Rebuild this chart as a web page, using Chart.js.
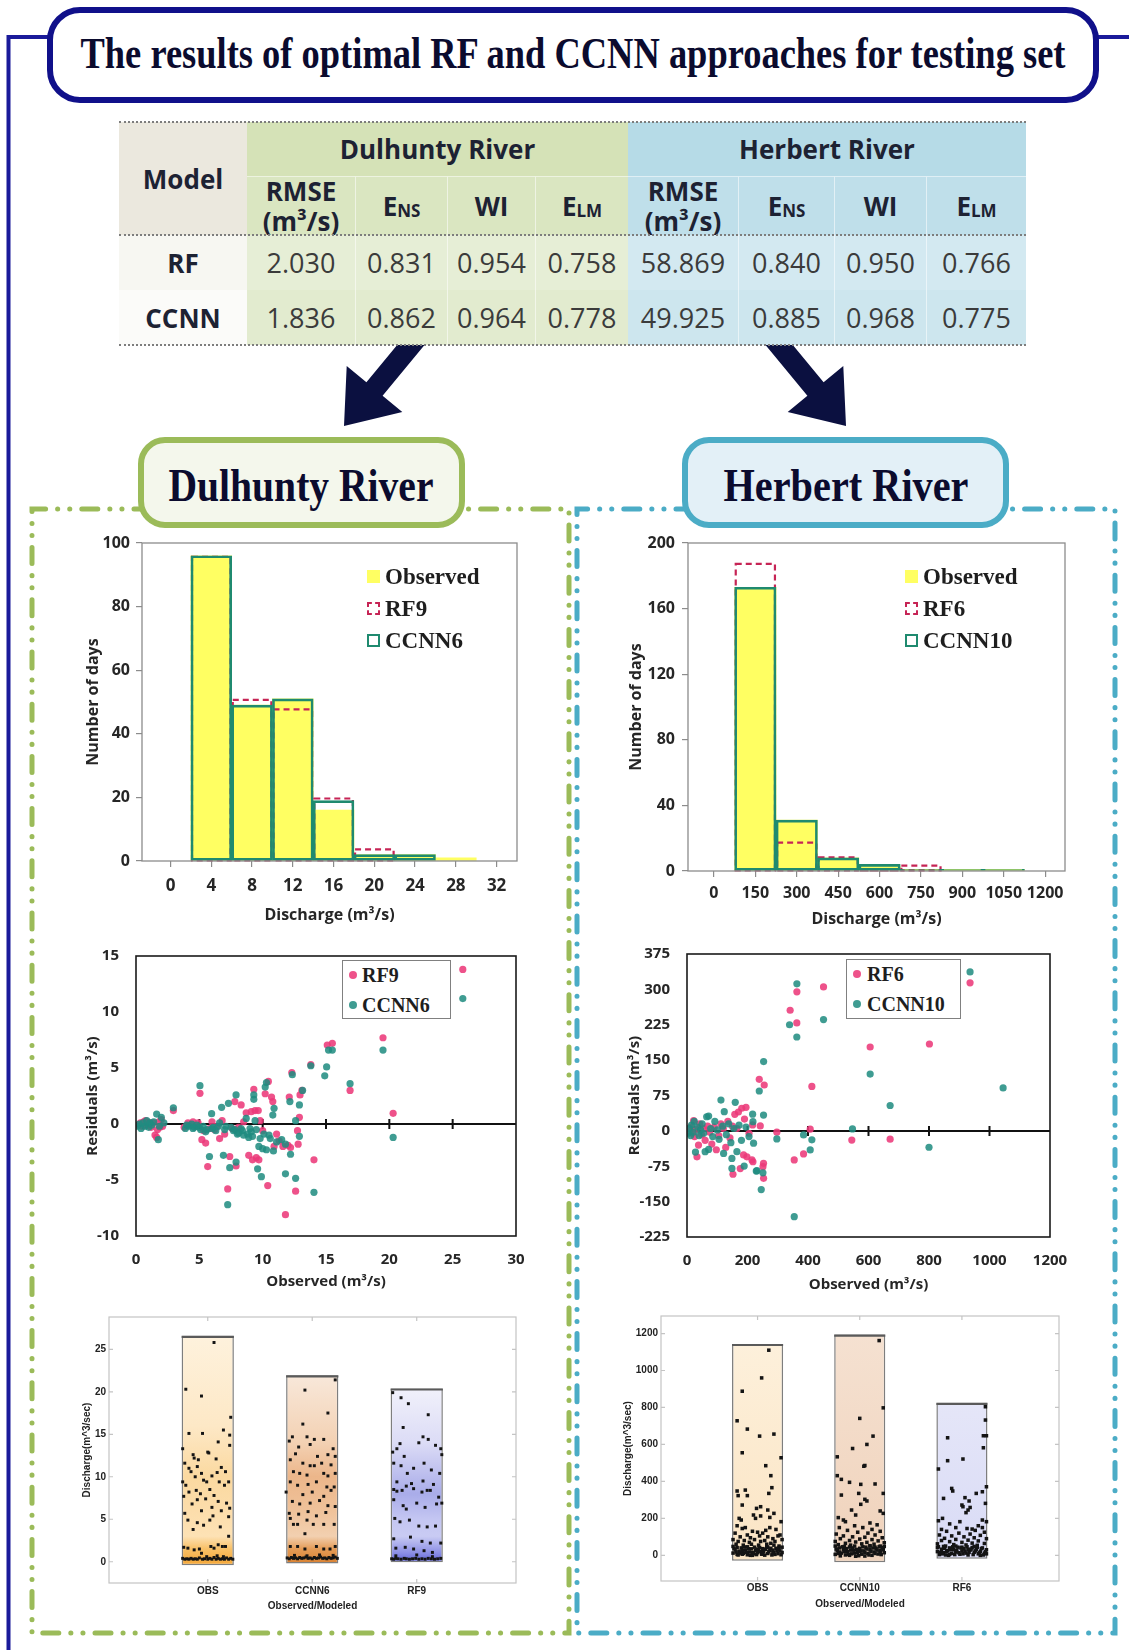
<!DOCTYPE html>
<html lang="en">
<head>
<meta charset="utf-8">
<title>The results of optimal RF and CCNN approaches for testing set</title>
<script src="https://cdn.jsdelivr.net/npm/chart.js@4.4.1/dist/chart.umd.min.js"></script>
<style>
  html, body { margin:0; padding:0; background:#fff; }
  #page { position:relative; width:1129px; height:1650px; overflow:hidden; font-family:'Open Sans','DejaVu Sans',sans-serif; }
  #deco { position:absolute; left:0; top:0; z-index:0; }
  .fit { position:absolute; white-space:nowrap; font-family:'Liberation Serif',serif; font-weight:bold; color:#0b0b2e; line-height:1.15; z-index:3; }
  .cell { position:absolute; box-sizing:border-box; display:flex; align-items:center; justify-content:center; text-align:center; z-index:2; }
  .hd { font-weight:700; color:#1d2233; font-size:26px; line-height:30px; }
  .num { font-weight:400; color:#3b3b3b; font-size:27px; }
  .sb { font-size:17px; position:relative; top:5px; }
  .dots { position:absolute; height:0; border-top:2px dotted #7d7d7d; z-index:3; }
  canvas { position:absolute; z-index:4; }
  .lg { position:absolute; z-index:5; font-family:'Liberation Serif',serif; font-weight:bold; color:#1e1e1e; white-space:nowrap; line-height:1; transform:translateY(-50%); }
  .ic { position:absolute; z-index:5; box-sizing:border-box; width:13px; height:13px; }
  .lgbox { position:absolute; z-index:5; box-sizing:border-box; border:1.5px solid #808080; background:#fff; }
  .dot { position:absolute; z-index:6; width:8px; height:8px; border-radius:50%; transform:translate(-50%,-50%); }
</style>
</head>
<body>
<div id="page">
  <svg id="deco" width="1129" height="1650" viewBox="0 0 1129 1650">
    <!-- outer frame -->
    <path d="M52,37 H8.5 V1650" fill="none" stroke="#1a1a9a" stroke-width="4"/>
    <path d="M1094,37 H1129" fill="none" stroke="#1a1a9a" stroke-width="4"/>
    <!-- title box -->
    <rect x="50" y="10" width="1046" height="90" rx="30" ry="30" fill="#fff" stroke="#10108a" stroke-width="6"/>
    <!-- arrows -->
    <polygon points="344,426 402.3,411.9 382.6,395.7 430.3,337.9 414.1,324.5 366.4,382.3 346.7,366.1" fill="#0b1040"/>
    <polygon points="846,426 787.7,411.9 807.4,395.7 759.7,337.9 775.9,324.5 823.6,382.3 843.3,366.1" fill="#0b1040"/>
    <!-- panel borders -->
    <path d="M150,509 H32 V1633 H569 V509 H455" fill="none" stroke="#9bbb59" stroke-width="5" stroke-linecap="round" stroke-dasharray="16 12 0.1 12 0.1 12"/>
    <path d="M692,509 H577 V1633 H1115 V509 H1000" fill="none" stroke="#4bacc6" stroke-width="5" stroke-linecap="round" stroke-dasharray="16 12 0.1 12 0.1 12"/>
    <!-- river label boxes -->
    <rect x="141" y="440" width="321" height="85" rx="24" ry="24" fill="#f4f7ec" stroke="#9bbb59" stroke-width="6"/>
    <rect x="685" y="440" width="321" height="85" rx="24" ry="24" fill="#e3f0f7" stroke="#4bacc6" stroke-width="6"/>
  </svg>

  <div class="fit" data-w="985" style="left:573px; top:54px; font-size:44px;">The results of optimal RF and CCNN approaches for testing set</div>
  <div class="fit" data-w="265" style="left:301px; top:486px; font-size:46px;">Dulhunty River</div>
  <div class="fit" data-w="245" style="left:846px; top:486px; font-size:46px;">Herbert River</div>

  <div id="tbl"></div>

  <canvas id="histD"></canvas>
  <canvas id="histH"></canvas>
  <canvas id="resD"></canvas>
  <canvas id="resH"></canvas>
  <canvas id="stripD"></canvas>
  <canvas id="stripH"></canvas>
  <div id="legends"></div>
</div>

<script>
// ================= table values =================
const riverNames = ['Dulhunty River', 'Herbert River'];
const modelNames = ['RF', 'CCNN'];
const metricNames = ['RMSE<br>(m³/s)', 'E<span class="sb">NS</span>', 'WI', 'E<span class="sb">LM</span>'];
const dulhuntyRF   = ['2.030', '0.831', '0.954', '0.758'];
const dulhuntyCCNN = ['1.836', '0.862', '0.964', '0.778'];
const herbertRF    = ['58.869', '0.840', '0.950', '0.766'];
const herbertCCNN  = ['49.925', '0.885', '0.968', '0.775'];

// ================= histograms (number of days per discharge bin) =================
const dulBinCenters = [4, 8, 12, 16, 20, 24, 28];
const dulObserved   = [96, 49, 51, 16, 2, 2, 1];
const dulRF9        = [96, 51, 48, 20, 4, 0, 0];
const dulCCNN6      = [96, 49, 51, 19, 2, 2, 0];
const dulHistXTicks = [0, 4, 8, 12, 16, 20, 24, 28, 32];
const dulHistYTicks = [0, 20, 40, 60, 80, 100];

const herBinCenters = [150, 300, 450, 600, 750, 900, 1050];
const herObserved   = [173, 31, 8, 3, 1, 1, 1];
const herRF6        = [188, 18, 9, 1, 4, 0, 0];
const herCCNN10     = [173, 31, 8, 4, 1, 1, 1];
const herHistXTicks = [0, 150, 300, 450, 600, 750, 900, 1050, 1200];
const herHistYTicks = [0, 40, 80, 120, 160, 200];

// ================= residuals [observed, residual] =================
const dulResRF9 = [
  [0.2,-0.1],[0.35,0.1],[0.5,-0.2],[0.6,0.2],[0.75,0.3],[0.9,-0.1],[1.0,0.15],[1.2,-0.3],[1.35,0.1],[1.5,-0.98],[1.63,-1.2],[1.7,-0.5],[1.8,0.2],[1.9,-0.3],[2.0,0.4],[2.1,-0.2],[2.95,1.2],
  [3.8,-0.3],[4.1,0.1],[4.3,-0.1],[4.5,0.2],[4.7,-0.2],[4.9,0.1],[5.05,2.74],[5.2,-1.4],[5.35,-0.6],[5.5,-1.7],[5.66,-3.8],[5.8,-0.4],[6.0,0.2],[6.2,-0.5],[6.4,-0.2],[6.6,-1.3],[6.8,0.3],[7.0,-0.9],
  [7.24,-5.8],[7.4,-2.9],[7.6,-0.4],[7.8,2.0],[7.9,-3.75],[8.1,-0.3],[8.3,1.7],[8.5,0.2],[8.7,1.0],[8.9,-2.8],[9.1,1.1],[9.2,-3.2],[9.3,3.1],[9.4,1.2],[9.5,-3.0],[9.65,1.2],[9.7,-3.2],[9.8,0.3],
  [10.0,-0.6],[10.2,2.7],[10.4,-5.5],[10.45,3.8],[10.7,2.4],[10.8,2.0],[10.9,-2.0],[11.1,-0.9],[11.3,-1.5],[11.6,-2.0],[11.8,-8.1],[12.0,-1.9],[12.1,2.4],[12.2,-2.1],[12.3,4.6],[12.6,-6.0],
  [12.75,-0.6],[12.8,-1.8],[12.9,0.6],[12.95,2.6],[13.1,3.0],[13.8,5.3],[14.05,-3.2],[15.1,7.05],[15.5,7.2],[16.9,3.0],[19.5,7.7],[20.3,0.95],[25.8,13.8]
];
const dulResCCNN6 = [
  [0.1,-0.2],[0.25,0.0],[0.4,-0.4],[0.55,0.1],[0.7,-0.2],[0.85,0.3],[1.0,-0.3],[1.1,0.1],[1.25,-0.1],[1.4,0.2],[1.63,0.89],[1.76,-1.4],[1.85,-0.2],[2.0,0.6],[2.2,0.1],[2.95,1.45],
  [3.9,-0.4],[4.0,-0.1],[4.2,-0.2],[4.4,0.0],[4.5,-0.4],[4.6,-0.3],[4.8,-0.1],[5.0,-0.3],[5.05,3.42],[5.1,-0.5],[5.3,-0.2],[5.5,-0.7],[5.6,-0.5],[5.8,-2.9],[5.97,0.92],[6.0,-0.4],[6.1,-0.3],
  [6.3,-0.6],[6.5,-0.2],[6.6,0.1],[6.76,1.49],[6.9,-2.8],[7.0,-0.5],[7.1,-0.2],[7.24,-7.2],[7.3,1.85],[7.4,-3.9],[7.5,-0.3],[7.7,-0.6],[7.8,-0.5],[7.9,2.6],[7.9,-3.4],[8.0,-0.9],[8.1,-0.8],
  [8.3,-0.4],[8.4,-0.6],[8.5,-1.0],[8.7,0.5],[8.8,-0.9],[8.9,-1.2],[9.0,-0.4],[9.1,-0.7],[9.2,-1.1],[9.3,2.6],[9.3,2.2],[9.4,0.3],[9.5,-0.5],[9.6,-4.0],[9.7,-2.0],[9.8,-1.3],[9.9,-4.7],
  [10.0,-2.2],[10.1,-0.9],[10.2,3.3],[10.3,-2.3],[10.3,3.7],[10.5,-1.0],[10.6,-1.3],[10.8,0.8],[10.85,-2.4],[10.9,1.4],[11.1,-1.6],[11.5,-1.4],[11.8,-1.8],[11.8,-4.45],[12.15,2.0],[12.2,-2.7],
  [12.34,4.4],[12.6,0.3],[12.6,-4.85],[12.9,1.7],[12.9,-1.1],[13.15,3.0],[13.8,5.2],[14.05,-6.1],[14.9,4.3],[15.05,5.1],[15.2,6.6],[15.5,6.6],[16.9,3.6],[19.5,6.6],[20.3,-1.2],[25.8,11.2]
];
const herResRF6 = [
  [5,-2],[12,8],[18,-5],[22,22],[25,-12],[30,3],[33,-55],[38,-30],[42,15],[48,-8],[55,5],[60,-20],[68,10],[75,-3],[82,-28],[90,8],[97,-40],[105,-10],[112,15],[120,5],
  [128,-35],[135,20],[142,-15],[150,10],[152,-92],[158,35],[165,5],[170,40],[176,-80],[181,48],[187,-51],[190,25],[195,50],[198,-55],[205,-5],[214.7,-61.6],[216.9,12.7],
  [218,-65.5],[238.8,109.3],[242.2,10.6],[251,-76],[253.2,-100.6],[253,-68.7],[255.3,97.3],[297,-2.8],[341,255.7],[354.5,-61.6],[363,228.8],[363.3,294.7],[385.3,-48.9],
  [407.3,3.5],[412.8,94.2],[451.3,305.3],[544.8,-19.4],[605.5,177.8],[671.5,-17.7],[801.4,184.2],[935.7,313.8]
];
const herResCCNN10 = [
  [3,-5],[8,5],[12,-10],[15,12],[20,-3],[24,20],[28,-45],[35,8],[40,-10],[45,2],[50,15],[55,-5],[60,-44],[65,30],[71.5,31.4],[71.5,-39.4],[78,5],[85,-12],[92,20],[100,2],
  [106,-18],[112.2,65.3],[118,10],[123.2,40.7],[121,-47.8],[130,-8],[138,15],[145,-25],[148.5,-58.4],[148.5,-79.6],[155,5],[159.5,60.5],[165,-44.2],[172,12],[180,-20],
  [189,-74.7],[195,8],[205,-12],[216.9,35.4],[218,19.4],[220,-26],[229,-85.3],[231.2,-84.3],[238.9,84.5],[245.4,-124.4],[251,-89],[253,33.6],[253.3,146.9],[297,-17],
  [339,225],[354.5,-182],[363.3,311.7],[363,199],[385.3,-8.5],[407.3,-40.4],[412.8,-19],[451.3,235.9],[547,4.2],[605.5,120.4],[671.5,53.8],[800,-34.7],[935.7,337],[1045,91]
];

// ================= jittered discharge columns [offset within column, discharge] =================
const dulStripLabels = ['OBS', 'CCNN6', 'RF9'];
const dulStripLow  = [-0.4, -0.2, -0.05];
const dulStripHigh = [26.6, 21.95, 20.4];
const dulStripOBS = [
  [0.06,25.8],[-0.21,20.3],[-0.06,19.5],[0.22,17.0],[-0.18,15.1],[-0.05,15.1],[0.15,15.5],[0.1,14.1],[0.21,14.9],[0.21,13.7],[-0.24,13.3],[0.0,12.9],[0.01,12.8],[0.08,12.1],
  [-0.09,12.0],[-0.14,12.6],[-0.13,12.2],[-0.22,11.6],[-0.18,11.0],[-0.16,10.6],[-0.12,10.0],[-0.1,11.2],[-0.06,10.4],[0.04,10.1],[0.09,10.5],[0.13,11.1],[0.17,10.6],[0.2,9.4],
  [-0.24,9.4],[-0.21,9.0],[-0.01,9.4],[-0.04,9.6],[0.11,9.4],[0.16,9.0],[-0.18,8.2],[-0.11,8.4],[-0.07,8.0],[0.02,8.5],[0.06,7.8],[-0.23,7.7],[-0.1,7.3],[-0.02,7.4],[0.1,7.1],
  [0.18,6.9],[0.21,6.3],[-0.15,6.8],[-0.06,6.0],[0.04,6.4],[0.13,6.0],[-0.22,5.7],[0.05,5.4],[-0.19,4.9],[-0.1,4.6],[-0.04,4.3],[0.02,4.9],[-0.14,3.8],[0.12,4.1],[0.2,3.0],[0.2,5.3],
  [-0.23,1.7],[-0.19,1.6],[-0.13,1.4],[-0.08,1.5],[0.03,1.8],[0.1,2.0],[0.14,1.8],[0.06,1.6],[0.17,1.8],[-0.06,1.0],
  [-0.24,0.4],[-0.22,0.3],[-0.2,0.35],[-0.18,0.3],[-0.16,0.4],[-0.14,0.3],[-0.12,0.35],[-0.1,0.3],[-0.08,0.45],[-0.05,0.3],[-0.03,0.35],[0.0,0.3],[0.02,0.4],[0.04,0.3],
  [0.06,0.5],[0.08,0.3],[0.1,0.4],[0.12,0.3],[0.14,0.35],[0.16,0.3],[0.18,0.45],[0.2,0.3],[0.22,0.4],[0.24,0.3],[-0.01,0.6],[0.09,0.7],[0.15,0.6]
];
const dulStripCCNN6 = [
  [0.22,21.4],[-0.07,20.2],[0.15,17.5],[-0.09,16.2],[-0.19,14.7],[-0.22,14.2],[-0.05,14.7],[0.02,14.4],[0.11,14.4],[0.2,13.3],[-0.13,13.5],[-0.02,13.8],[-0.16,12.7],[0.05,12.4],
  [0.15,12.6],[0.22,12.4],[-0.21,12.0],[-0.09,11.6],[-0.02,11.3],[0.02,11.3],[0.09,11.6],[0.18,11.4],[-0.18,10.6],[-0.12,10.4],[-0.05,10.2],[0.11,10.4],[0.15,10.1],[0.22,10.4],
  [-0.21,9.4],[-0.14,9.0],[-0.04,9.1],[0.04,9.4],[0.14,8.8],[0.21,8.8],[-0.25,8.2],[-0.09,7.9],[0.0,8.2],[0.11,7.7],[0.18,8.4],[-0.19,7.1],[-0.12,6.8],[-0.02,6.9],[0.07,7.2],
  [0.15,6.6],[0.22,6.5],[-0.22,5.7],[-0.13,5.6],[-0.04,5.9],[0.04,5.4],[0.13,5.8],[-0.21,5.1],[-0.18,4.4],[-0.14,4.4],[-0.05,4.9],[0.01,4.4],[0.11,4.4],[0.21,4.4],[-0.07,3.3],
  [-0.21,1.8],[-0.14,1.8],[-0.07,1.5],[0.04,1.8],[0.11,1.5],[0.17,1.5],[0.22,1.8],
  [-0.24,0.45],[-0.22,0.35],[-0.2,0.5],[-0.18,0.4],[-0.16,0.45],[-0.14,0.35],[-0.12,0.5],[-0.1,0.4],[-0.08,0.45],[-0.06,0.55],[-0.04,0.4],[-0.02,0.45],[0,0.35],[0.02,0.5],
  [0.04,0.4],[0.06,0.45],[0.08,0.55],[0.1,0.4],[0.12,0.45],[0.14,0.35],[0.16,0.5],[0.18,0.4],[0.2,0.45],[0.22,0.55],[0.24,0.4],[-0.05,0.7],[0.07,0.8],[0.2,0.75],[-0.17,0.75]
];
const dulStripRF9 = [
  [-0.23,19.9],[-0.15,19.3],[-0.08,18.6],[0.11,17.3],[-0.13,15.8],[-0.16,13.9],[-0.19,13.3],[0.06,14.7],[0.02,14.0],[0.11,14.4],[0.18,13.7],[-0.23,12.9],[-0.12,12.4],[0.23,13.3],
  [0.24,12.6],[-0.22,11.6],[-0.15,11.3],[-0.09,10.4],[-0.03,11.0],[0.07,11.6],[0.14,10.8],[0.22,10.4],[-0.19,9.4],[-0.1,8.9],[-0.05,9.2],[0.06,9.5],[0.16,9.1],[-0.22,8.5],
  [-0.19,8.3],[-0.14,8.4],[-0.03,8.6],[0.05,8.2],[0.1,8.4],[0.13,8.4],[0.21,7.6],[-0.22,7.3],[-0.13,6.6],[-0.1,6.2],[0.0,6.9],[0.08,6.4],[0.19,6.8],[0.24,6.9],[-0.21,5.1],
  [-0.16,4.7],[-0.07,4.9],[0.02,4.2],[0.1,4.1],[0.18,4.2],[-0.06,2.9],[-0.22,2.7],[0.05,2.4],[0.13,2.2],[0.23,2.2],[-0.2,1.6],[-0.11,1.7],[-0.03,1.5],[0.07,1.3],[0.15,1.1],
  [-0.24,0.35],[-0.22,0.3],[-0.2,0.4],[-0.18,0.35],[-0.15,0.3],[-0.12,0.4],[-0.1,0.35],[-0.07,0.3],[-0.04,0.35],[-0.01,0.4],[0.02,0.3],[0.05,0.35],[0.08,0.3],[0.11,0.4],
  [0.14,0.35],[0.17,0.3],[0.2,0.35],[0.23,0.4],[-0.2,0.7],[0.0,0.8],[0.15,0.6]
];

const herStripLabels = ['OBS', 'CCNN10', 'RF6'];
const herStripLow  = [-29, -38, -18];
const herStripHigh = [1144, 1195, 825];
const herStripOBS = [
  [0.11,1110],[0.04,960],[-0.15,888],[-0.2,728],[-0.1,683],[0.02,645],[0.16,656],[-0.15,555],[0.23,528],[0.08,485],[0.13,431],[0.14,366],[0.11,335],[-0.2,348],[-0.19,323],
  [-0.12,353],[-0.1,323],[-0.15,272],[0.03,263],[-0.01,254],[0.1,245],[0.16,227],[-0.04,218],[0.03,213],[0.12,205],[-0.18,200],[-0.16,191],[0.23,182],[-0.02,200],
  [-0.2,160],[-0.15,145],[-0.12,150],[-0.05,130],[0.0,125],[0.05,120],[0.08,135],[0.12,150],[0.18,140],[0.22,110],[-0.22,120],[-0.17,100],[-0.1,110],[-0.07,95],[0.02,105],
  [0.1,100],[0.15,90],[0.2,105],[-0.24,85],[-0.19,75],[-0.13,80],[-0.08,70],[-0.03,85],[0.03,75],[0.07,80],[0.13,65],[0.17,75],[0.24,85],[-0.21,60],[-0.14,55],[-0.06,60],
  [0.01,55],[0.09,60],[0.16,55],[0.21,50],
  [-0.24,12],[-0.22,30],[-0.2,5],[-0.18,22],[-0.16,40],[-0.14,10],[-0.12,28],[-0.1,3],[-0.08,18],[-0.06,35],[-0.04,8],[-0.02,25],[0,14],[0.02,42],[0.04,6],[0.06,20],[0.08,33],
  [0.1,10],[0.12,27],[0.14,2],[0.16,17],[0.18,38],[0.2,9],[0.22,24],[0.24,15],[-0.23,38],[-0.21,18],[-0.19,2],[-0.17,12],[-0.15,26],[-0.13,45],[-0.11,16],[-0.09,36],[-0.07,0],
  [-0.05,15],[-0.03,44],[-0.01,4],[0.01,30],[0.03,20],[0.05,36],[0.07,1],[0.09,46],[0.11,19],[0.13,38],[0.15,28],[0.17,5],[0.19,25],[0.21,40],[0.23,3],[-0.24,48],[-0.2,42],
  [-0.15,6],[-0.1,46],[-0.05,0],[0.0,34],[0.05,10],[0.1,44],[0.15,12],[0.2,32],[0.24,44]
];
const herStripCCNN10 = [
  [0.19,1162],[0.23,798],[0.0,741],[0.13,645],[0.07,600],[-0.07,578],[-0.22,533],[0.05,486],[0.04,482],[0.15,386],[-0.22,431],[-0.18,411],[-0.1,395],[0.01,384],[-0.01,335],
  [0.23,335],[-0.18,326],[0.05,303],[0.07,294],[0.01,276],[-0.08,245],[0.2,240],[0.23,227],[-0.04,218],[-0.21,204],[-0.16,191],[-0.14,182],[0.1,175],[0.17,165],[-0.05,160],
  [0.03,150],[-0.2,150],[0.12,140],[0.2,130],[-0.12,135],[-0.02,125],[0.08,120],[0.15,110],[-0.23,115],[-0.16,105],[-0.07,100],[0.05,98],[0.22,95],[-0.19,90],[0.0,88],
  [0.12,85],[-0.1,80],[0.18,78],[-0.24,75],[-0.04,72],[0.07,70],[0.24,68],[-0.14,65],[0.02,62],[0.14,60],[-0.21,58],[-0.09,55],[0.1,52],[0.2,50],
  [-0.24,5],[-0.22,25],[-0.2,40],[-0.18,12],[-0.16,30],[-0.14,2],[-0.12,20],[-0.1,45],[-0.08,8],[-0.06,28],[-0.04,-5],[-0.02,16],[0,38],[0.02,6],[0.04,24],[0.06,44],[0.08,10],
  [0.1,30],[0.12,0],[0.14,18],[0.16,36],[0.18,7],[0.2,26],[0.22,42],[0.24,14],[-0.23,34],[-0.21,10],[-0.19,-3],[-0.17,46],[-0.15,20],[-0.13,36],[-0.11,6],[-0.09,28],[-0.07,40],
  [-0.05,12],[-0.03,32],[-0.01,-2],[0.01,24],[0.03,46],[0.05,14],[0.07,34],[0.09,2],[0.11,22],[0.13,40],[0.15,10],[0.17,28],[0.19,46],[0.21,4],[0.23,30],[-0.24,50],[-0.2,18],
  [-0.15,48],[-0.1,0],[-0.05,50],[0,22],[0.05,-4],[0.1,50],[0.15,44],[0.2,16],[0.24,48]
];
const herStripRF6 = [
  [0.23,804],[0.23,732],[0.21,647],[0.24,647],[-0.14,636],[0.21,582],[0.01,521],[-0.14,512],[-0.23,467],[0.24,371],[-0.1,362],[-0.09,348],[0.14,335],[0.2,344],[-0.18,308],
  [0.03,312],[0.07,294],[0.23,281],[0.0,272],[0.01,263],[0.08,259],[0.06,245],[0.04,231],[-0.23,187],[-0.19,200],[-0.02,182],[0.2,191],[0.24,182],[-0.12,170],[0.16,160],
  [-0.06,150],[0.05,145],[0.1,142],[0.2,150],[-0.2,140],[0.13,135],[-0.15,130],[0.22,125],[-0.03,120],[0.08,115],[-0.22,110],[0.18,108],[-0.1,105],[0.02,100],[0.12,95],
  [-0.17,92],[0.24,90],[-0.06,86],[0.06,82],[-0.2,80],[0.16,78],[-0.12,74],[0.0,70],[0.1,66],[0.22,64],[-0.24,62],[-0.08,58],[0.04,56],[0.15,54],[-0.16,50],
  [-0.24,20],[-0.22,4],[-0.2,33],[-0.18,14],[-0.16,2],[-0.14,26],[-0.12,40],[-0.1,10],[-0.08,30],[-0.06,18],[-0.04,44],[-0.02,6],[0,24],[0.02,36],[0.04,12],[0.06,2],[0.08,28],
  [0.1,42],[0.12,16],[0.14,32],[0.16,8],[0.18,22],[0.2,40],[0.22,12],[0.24,30],[-0.23,46],[-0.21,16],[-0.19,8],[-0.17,38],[-0.15,20],[-0.13,0],[-0.11,30],[-0.09,46],[-0.07,4],
  [-0.05,26],[-0.03,14],[-0.01,40],[0.01,8],[0.03,22],[0.05,46],[0.07,16],[0.09,34],[0.11,4],[0.13,24],[0.15,44],[0.17,14],[0.19,36],[0.21,2],[0.23,20],[-0.24,42],[-0.18,48],
  [-0.12,6],[-0.06,50],[0.0,44],[0.06,32],[0.12,48],[0.18,0],[0.24,8]
];

// ================= styling =================
const GREEN_LINE = '#1f8a6f';
const RED_DASH = '#c62455';
const YELLOW = '#ffff62';
const PINK = 'rgba(236,58,122,0.88)';
const TEAL = 'rgba(31,140,128,0.86)';
const TXT = '#262626';

// colour ramps for the discharge columns, as [discharge, colour]
const dulColumnRamps = [
  [[29,'#fef4e2'],[16,'#fde8c6'],[10,'#fbd9a0'],[6,'#fcddab'],[3,'#fde2b5'],[1.5,'#f8c066'],[-0.5,'#f4a535']],
  [[22,'#f8e8da'],[14,'#f3d1b3'],[10,'#ecb68a'],[6,'#efc29a'],[3,'#f2d0b0'],[1.5,'#e49b56'],[-0.5,'#d77d2c']],
  [[21,'#f3f3fb'],[14,'#dcdcf6'],[8,'#a9ace9'],[5,'#c4c6f2'],[3,'#c9cbf3'],[1,'#8a8de4'],[-0.5,'#4d52d6']]
];
const herColumnRamps = [
  [[1150,'#fdf0db'],[0,'#fbe5c5']],
  [[1200,'#f5e1d1'],[0,'#f0d3bc']],
  [[830,'#e5e6f8'],[0,'#d9dbf6']]
];

Chart.defaults.font.family = "'Open Sans','DejaVu Sans',sans-serif";
Chart.defaults.color = TXT;

// ================= helpers =================
function fitText() {
  document.querySelectorAll('.fit').forEach(el => {
    const w = el.getBoundingClientRect().width;
    const s = parseFloat(el.dataset.w) / w;
    el.style.transform = `translate(-50%,-50%) scaleX(${s})`;
  });
}

function buildTable() {
  const colX = [119, 247, 355, 447, 535, 628, 738, 834, 926, 1026];
  const rowY = [122, 176, 235, 290, 345];
  const host = document.getElementById('tbl');
  function cell(c0, c1, r0, r1, bg, html, cls, extra) {
    const d = document.createElement('div');
    d.className = 'cell ' + cls;
    d.style.left = colX[c0] + 'px';
    d.style.top = rowY[r0] + 'px';
    d.style.width = (colX[c1] - colX[c0]) + 'px';
    d.style.height = (rowY[r1] - rowY[r0]) + 'px';
    d.style.background = bg;
    if (extra) Object.assign(d.style, extra);
    d.innerHTML = html;
    host.appendChild(d);
  }
  const sep = { borderLeft: '1px solid rgba(255,255,255,0.55)' };
  cell(0, 1, 0, 2, '#ebe8de', 'Model', 'hd');
  cell(1, 5, 0, 1, '#d5e2b7', riverNames[0], 'hd');
  cell(5, 9, 0, 1, '#b6dbe7', riverNames[1], 'hd');
  metricNames.forEach((m, k) => {
    cell(1 + k, 2 + k, 1, 2, '#dae6c1', m, 'hd', Object.assign({ borderTop: '1px solid rgba(255,255,255,0.5)' }, k ? sep : {}));
    cell(5 + k, 6 + k, 1, 2, '#bfdfea', m, 'hd', Object.assign({ borderTop: '1px solid rgba(255,255,255,0.5)' }, k ? sep : {}));
  });
  const rows = [[dulhuntyRF, herbertRF], [dulhuntyCCNN, herbertCCNN]];
  const dulBg = ['#e6eed6', '#e2ebcf'];
  const herBg = ['#d3e9f1', '#cde6ee'];
  rows.forEach((pair, r) => {
    cell(0, 1, 2 + r, 3 + r, r ? '#fbfbf9' : '#f7f7f2', modelNames[r], 'hd');
    pair[0].forEach((v, k) => cell(1 + k, 2 + k, 2 + r, 3 + r, dulBg[r], v, 'num', k ? sep : null));
    pair[1].forEach((v, k) => cell(5 + k, 6 + k, 2 + r, 3 + r, herBg[r], v, 'num', k ? sep : null));
  });
  [122, 235, 345].forEach(y => {
    const d = document.createElement('div');
    d.className = 'dots';
    d.style.left = '119px'; d.style.width = '907px'; d.style.top = (y - 1) + 'px';
    host.appendChild(d);
  });
}

function place(id, box) {
  const c = document.getElementById(id);
  c.width = box.w; c.height = box.h;
  c.style.left = box.x + 'px'; c.style.top = box.y + 'px';
  c.style.width = box.w + 'px'; c.style.height = box.h + 'px';
  return c;
}
function layoutFor(box, area) {
  return {
    padding: { left: 0, top: area.t - box.y, right: box.x + box.w - area.r, bottom: 0 },
    yW: area.l - box.x,
    xH: box.y + box.h - area.b
  };
}
// pin an axis to a fixed thickness and drop the label overhang padding
function pinned(size, horizontal) {
  return s => {
    if (horizontal) s.height = size; else s.width = size;
    s.paddingTop = 0; s.paddingBottom = 0; s.paddingLeft = 0; s.paddingRight = 0;
  };
}
const zipXY = (xs, ys) => xs.map((x, i) => ({ x, y: ys[i] }));
const pairsXY = arr => arr.map(([x, y]) => ({ x, y }));
const columnPoints = (col, arr) => arr.map(([o, v]) => ({ x: col + o, y: v }));
const fixedTicks = list => s => { s.ticks = list.map(v => ({ value: v })); };

const common = { animation: false, responsive: false, maintainAspectRatio: false, devicePixelRatio: 1, events: [] };

// ================= plugins =================
const framePlugin = {
  id: 'frame',
  afterDatasetsDraw(chart, args, opts) {
    if (!opts || !opts.color) return;
    const { ctx, chartArea: a } = chart;
    ctx.save();
    ctx.strokeStyle = opts.color;
    ctx.lineWidth = opts.width || 1;
    ctx.strokeRect(a.left, a.top, a.right - a.left, a.bottom - a.top);
    if (opts.innerTicks) {
      const len = opts.innerTicks, xs = chart.scales.x, ys = chart.scales.y;
      ctx.beginPath();
      ys.ticks.forEach(t => {
        const py = ys.getPixelForValue(t.value);
        ctx.moveTo(a.left, py); ctx.lineTo(a.left + len, py);
        ctx.moveTo(a.right, py); ctx.lineTo(a.right - len, py);
      });
      xs.ticks.forEach(t => {
        const px = xs.getPixelForValue(t.value);
        ctx.moveTo(px, a.top); ctx.lineTo(px, a.top + len);
        ctx.moveTo(px, a.bottom); ctx.lineTo(px, a.bottom - len);
      });
      ctx.stroke();
    }
    ctx.restore();
  }
};
const zeroAxisPlugin = {
  id: 'zeroAxis',
  beforeDatasetsDraw(chart, args, opts) {
    if (!opts || !opts.ticks) return;
    const { ctx, chartArea: a, scales: { x, y } } = chart;
    const py = y.getPixelForValue(0);
    ctx.save();
    ctx.strokeStyle = opts.color || '#111';
    ctx.lineWidth = opts.width || 2;
    ctx.beginPath();
    ctx.moveTo(a.left, py); ctx.lineTo(a.right, py);
    opts.ticks.forEach(v => {
      const px = x.getPixelForValue(v);
      ctx.moveTo(px, py - opts.half); ctx.lineTo(px, py + opts.half);
    });
    ctx.stroke();
    ctx.restore();
  }
};
// dashed outlines for histogram bars, and a darker cap line for range columns
const barExtrasPlugin = {
  id: 'barExtras',
  afterDatasetDraw(chart, args) {
    const ds = chart.data.datasets[args.index];
    if (!ds || (!ds.dashOutline && !ds.capLine)) return;
    const ctx = chart.ctx;
    ctx.save();
    args.meta.data.forEach(bar => {
      const { x, y, base, width } = bar.getProps(['x', 'y', 'base', 'width'], true);
      const top = Math.min(y, base), h = Math.abs(base - y);
      if (h < 0.5) return;
      if (ds.dashOutline) {
        const o = ds.dashOutline, i = o.width / 2;
        ctx.strokeStyle = o.color; ctx.lineWidth = o.width; ctx.setLineDash(o.dash);
        ctx.strokeRect(x - width / 2 + i, top + i, width - 2 * i, h - i);
      }
      if (ds.capLine) {
        ctx.strokeStyle = ds.capLine.color; ctx.lineWidth = ds.capLine.width; ctx.setLineDash([]);
        ctx.beginPath(); ctx.moveTo(x - width / 2, top + ds.capLine.width / 2); ctx.lineTo(x + width / 2, top + ds.capLine.width / 2); ctx.stroke();
      }
    });
    ctx.restore();
  }
};
Chart.register(framePlugin, zeroAxisPlugin, barExtrasPlugin);

// ================= chart builders =================
function histogram(id, box, area, cfg) {
  const L = layoutFor(box, area);
  const bar = (data, extra) => Object.assign({ data, grouped: false, barPercentage: 1, categoryPercentage: 1, borderSkipped: false }, extra);
  const tickFont = size => ({ size, weight: 'bold' });
  return new Chart(place(id, box), {
    type: 'bar',
    data: { datasets: [
      bar(zipXY(cfg.centers, cfg.ccnn), { label: cfg.names[2], backgroundColor: 'rgba(0,0,0,0)', borderColor: GREEN_LINE, borderWidth: 2 }),
      bar(zipXY(cfg.centers, cfg.rf), { label: cfg.names[1], backgroundColor: 'rgba(0,0,0,0)', borderWidth: 0, dashOutline: { color: RED_DASH, width: 2.2, dash: [6, 4] } }),
      bar(zipXY(cfg.centers, cfg.obs), { label: cfg.names[0], backgroundColor: YELLOW, borderWidth: 0 })
    ] },
    options: Object.assign({}, common, {
      layout: { padding: L.padding, autoPadding: false },
      scales: {
        x: {
          type: 'linear', min: cfg.xMin, max: cfg.xMax, offset: false,
          afterBuildTicks: fixedTicks(cfg.xTicks), afterFit: pinned(L.xH, true),
          grid: { display: true, offset: false, drawOnChartArea: false, drawTicks: true, tickLength: 6, color: '#8c8c8c', lineWidth: 1.2 },
          border: { display: false },
          ticks: { autoSkip: false, maxRotation: 0, padding: cfg.xPad, font: tickFont(cfg.xFont), color: TXT, callback: v => String(v) },
          title: { display: true, text: 'Discharge (m³/s)', padding: 0, font: { size: 16, weight: 'bold' }, color: TXT }
        },
        y: {
          type: 'linear', min: 0, max: cfg.yMax,
          afterBuildTicks: fixedTicks(cfg.yTicks), afterFit: pinned(L.yW, false),
          grid: { display: true, drawOnChartArea: false, drawTicks: true, tickLength: 6, color: '#8c8c8c', lineWidth: 1.2 },
          border: { display: false },
          ticks: { padding: cfg.yPad, font: tickFont(16), color: TXT, callback: v => String(v) },
          title: { display: true, text: 'Number of days', padding: 0, font: { size: 16, weight: 'bold' }, color: TXT }
        }
      },
      plugins: { legend: { display: false }, tooltip: { enabled: false }, frame: { color: '#8c8c8c', width: 1.3 } }
    })
  });
}

function residuals(id, box, area, cfg) {
  const L = layoutFor(box, area);
  const f = { size: 15, weight: 'bold' };
  const pts = (data, color, label) => ({ label, data: pairsXY(data), pointRadius: 3.6, pointBackgroundColor: color, pointBorderWidth: 0, showLine: false });
  return new Chart(place(id, box), {
    type: 'scatter',
    data: { datasets: [pts(cfg.ccnn, TEAL, cfg.names[1]), pts(cfg.rf, PINK, cfg.names[0])] },
    options: Object.assign({}, common, {
      layout: { padding: L.padding, autoPadding: false },
      scales: {
        x: {
          type: 'linear', min: cfg.xTicks[0], max: cfg.xTicks[cfg.xTicks.length - 1],
          afterBuildTicks: fixedTicks(cfg.xTicks), afterFit: pinned(L.xH, true),
          grid: { display: false, drawTicks: false }, border: { display: false },
          ticks: { autoSkip: false, maxRotation: 0, padding: 15, font: f, color: TXT, callback: v => String(v) },
          title: { display: true, text: 'Observed (m³/s)', padding: 0, font: f, color: TXT }
        },
        y: {
          type: 'linear', min: cfg.yTicks[0], max: cfg.yTicks[cfg.yTicks.length - 1],
          afterBuildTicks: fixedTicks(cfg.yTicks), afterFit: pinned(L.yW, false),
          grid: { display: false, drawTicks: false }, border: { display: false },
          ticks: { padding: 17, font: f, color: TXT, callback: v => String(v) },
          title: { display: true, text: 'Residuals (m³/s)', padding: 0, font: f, color: TXT }
        }
      },
      plugins: {
        legend: { display: false }, tooltip: { enabled: false },
        frame: { color: '#1a1a1a', width: 1.6 },
        zeroAxis: { ticks: cfg.crossTicks, half: 5, width: 2, color: '#111' }
      }
    })
  });
}

function columnRamp(ramps) {
  return context => {
    const chart = context.chart, ys = chart.scales && chart.scales.y;
    const stops = ramps[context.dataIndex];
    if (!ys || !chart.chartArea || !stops) return ramps[0][0][1];
    const top = ys.getPixelForValue(stops[0][0]);
    const bot = ys.getPixelForValue(stops[stops.length - 1][0]);
    const g = chart.ctx.createLinearGradient(0, top, 0, bot);
    stops.forEach(([v, c]) => {
      const p = (ys.getPixelForValue(v) - top) / (bot - top);
      g.addColorStop(Math.min(1, Math.max(0, p)), c);
    });
    return g;
  };
}

function strips(id, box, area, cfg) {
  const L = layoutFor(box, area);
  const f = { size: 10, weight: 'bold', family: "'Liberation Sans', Arial, sans-serif" };
  const dots = (col, arr, label) => ({ type: 'scatter', label, data: columnPoints(col, arr), pointStyle: 'rect', pointRadius: cfg.dotR, pointBackgroundColor: '#141414', pointBorderWidth: 0 });
  return new Chart(place(id, box), {
    type: 'scatter',
    data: { datasets: [
      dots(1, cfg.cols[0], cfg.labels[0]),
      dots(2, cfg.cols[1], cfg.labels[1]),
      dots(3, cfg.cols[2], cfg.labels[2]),
      {
        type: 'bar', label: 'range',
        data: cfg.labels.map((_, i) => ({ x: i + 1, y: [cfg.low[i], cfg.high[i]] })),
        backgroundColor: columnRamp(cfg.ramps), borderColor: '#7e7e7e', borderWidth: 1.5, borderSkipped: false,
        barPercentage: 0.5, categoryPercentage: 1,
        capLine: { color: '#5a5a5a', width: 2.2 }
      }
    ] },
    options: Object.assign({}, common, {
      layout: { padding: L.padding, autoPadding: false },
      scales: {
        x: {
          type: 'linear', min: 0.055, max: 3.95, offset: false,
          afterBuildTicks: fixedTicks([1, 2, 3]), afterFit: pinned(L.xH, true),
          grid: { display: false, drawTicks: false }, border: { display: false },
          ticks: { autoSkip: false, maxRotation: 0, padding: cfg.xPad, font: f, color: '#222', callback: v => cfg.labels[Math.round(v) - 1] },
          title: { display: true, text: 'Observed/Modeled', padding: 0, font: f, color: '#222' }
        },
        y: {
          type: 'linear', min: cfg.yMin, max: cfg.yMax,
          afterBuildTicks: fixedTicks(cfg.yTicks), afterFit: pinned(L.yW, false),
          grid: { display: false, drawTicks: false }, border: { display: false },
          ticks: { padding: 3, font: f, color: '#222', callback: v => String(v) },
          title: { display: true, text: 'Discharge(m^3/sec)', padding: 0, font: f, color: '#222' }
        }
      },
      plugins: { legend: { display: false }, tooltip: { enabled: false }, frame: { color: '#c4c4c4', width: 1.2, innerTicks: 4 } }
    })
  });
}

// ================= legends =================
function addEl(cls, style, html) {
  const d = document.createElement('div');
  d.className = cls;
  Object.assign(d.style, style);
  if (html !== undefined) d.innerHTML = html;
  document.getElementById('legends').appendChild(d);
  return d;
}
function histLegend(iconX, textX, ys, names) {
  addEl('ic', { left: iconX + 'px', top: (ys[0] - 6.5) + 'px', background: YELLOW });
  addEl('ic', { left: iconX + 'px', top: (ys[1] - 6.5) + 'px', border: '2px dashed ' + RED_DASH });
  addEl('ic', { left: iconX + 'px', top: (ys[2] - 6.5) + 'px', border: '2.5px solid ' + GREEN_LINE });
  names.forEach((n, i) => addEl('lg', { left: textX + 'px', top: ys[i] + 'px', fontSize: '23px' }, n));
}
function residualLegend(box, dotX, textX, ys, names) {
  addEl('lgbox', { left: box[0] + 'px', top: box[1] + 'px', width: box[2] + 'px', height: box[3] + 'px' });
  addEl('dot', { left: dotX + 'px', top: ys[0] + 'px', background: PINK });
  addEl('dot', { left: dotX + 'px', top: ys[1] + 'px', background: TEAL });
  names.forEach((n, i) => addEl('lg', { left: textX + 'px', top: ys[i] + 'px', fontSize: '20px' }, n));
}

// ================= build page =================
buildTable();
fitText();

histogram('histD', { x: 84, y: 533, w: 460, h: 392 }, { l: 142, t: 543, r: 517, b: 861 }, {
  centers: dulBinCenters, obs: dulObserved, rf: dulRF9, ccnn: dulCCNN6, names: ['Observed', 'RF9', 'CCNN6'],
  xMin: -2.8, xMax: 34, xTicks: dulHistXTicks, yMax: 100, yTicks: dulHistYTicks, xFont: 17, xPad: 9, yPad: 6
});
histogram('histH', { x: 627, y: 533, w: 470, h: 396 }, { l: 688, t: 543, r: 1065, b: 871 }, {
  centers: herBinCenters, obs: herObserved, rf: herRF6, ccnn: herCCNN10, names: ['Observed', 'RF6', 'CCNN10'],
  xMin: -94, xMax: 1272, xTicks: herHistXTicks, yMax: 200, yTicks: herHistYTicks, xFont: 16, xPad: 7, yPad: 7
});
residuals('resD', { x: 84, y: 946, w: 460, h: 345 }, { l: 136, t: 956, r: 516, b: 1236 }, {
  rf: dulResRF9, ccnn: dulResCCNN6, names: ['RF9', 'CCNN6'],
  xTicks: [0, 5, 10, 15, 20, 25, 30], yTicks: [-10, -5, 0, 5, 10, 15], crossTicks: [5, 10, 15, 20, 25]
});
residuals('resH', { x: 626, y: 944, w: 460, h: 350 }, { l: 687, t: 954, r: 1050, b: 1237 }, {
  rf: herResRF6, ccnn: herResCCNN10, names: ['RF6', 'CCNN10'],
  xTicks: [0, 200, 400, 600, 800, 1000, 1200], yTicks: [-225, -150, -75, 0, 75, 150, 225, 300, 375], crossTicks: [200, 400, 600, 800, 1000]
});
strips('stripD', { x: 81, y: 1305, w: 460, h: 307 }, { l: 109, t: 1317, r: 516, b: 1583 }, {
  cols: [dulStripOBS, dulStripCCNN6, dulStripRF9], labels: dulStripLabels, low: dulStripLow, high: dulStripHigh,
  ramps: dulColumnRamps, yMin: -2.5, yMax: 28.8, yTicks: [0, 5, 10, 15, 20, 25], xPad: 2, dotR: 2.1
});
strips('stripH', { x: 622, y: 1304, w: 470, h: 306 }, { l: 661, t: 1316, r: 1059, b: 1581 }, {
  cols: [herStripOBS, herStripCCNN10, herStripRF6], labels: herStripLabels, low: herStripLow, high: herStripHigh,
  ramps: herColumnRamps, yMin: -139, yMax: 1295, yTicks: [0, 200, 400, 600, 800, 1000, 1200], xPad: 1, dotR: 2.5
});

histLegend(367, 385, [576, 608, 640], ['Observed', 'RF9', 'CCNN6']);
histLegend(905, 923, [576, 608, 640], ['Observed', 'RF6', 'CCNN10']);
residualLegend([342, 960, 109, 59], 353, 362, [975, 1005], ['RF9', 'CCNN6']);
residualLegend([846, 959, 115, 60], 857, 867, [974, 1004], ['RF6', 'CCNN10']);
</script>
</body>
</html>
